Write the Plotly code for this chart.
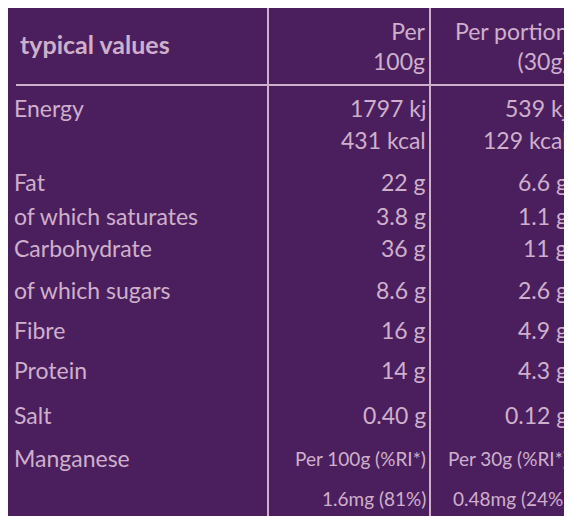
import plotly.graph_objects as go

# table contents
nutrients = ["Energy", "", "Fat", "of which saturates", "Carbohydrate",
             "of which sugars", "Fibre", "Protein", "Salt", "Manganese", ""]
per_100g = ["1797 kj", "431 kcal", "22 g", "3.8 g", "36 g", "8.6 g",
            "16 g", "14 g", "0.40 g", "Per 100g (%RI*)", "1.6mg (81%)"]
per_portion = ["539 kj", "129 kcal", "6.6 g", "1.1 g", "11 g", "2.6 g",
               "4.9 g", "4.3 g", "0.12 g", "Per 30g (%RI*)", "0.48mg (24%)"]
row_y = [100, 132, 174, 208, 240, 282, 322, 362, 407, 450, 490]

header_cols = ["Per<br>100g", "Per portion<br>(30g)"]

bg = "#4b1f5e"
fg = "#cfb0cc"
font = dict(family="Lato", size=23, color=fg)
small = dict(family="Lato", size=19, color=fg)

fig = go.Figure()
fig.add_trace(go.Scatter(x=[0, 572], y=[0, 516], mode="markers",
                         marker=dict(opacity=0), hoverinfo="skip"))

fig.add_annotation(x=10, y=36, text="<b>typical values</b>", showarrow=False,
                   xanchor="left", font=dict(family="Lato", size=25, color=fg))
fig.add_annotation(x=420, y=38, text=header_cols[0], showarrow=False,
                   xanchor="right", align="right", font=font)
fig.add_annotation(x=562, y=38, text=header_cols[1], showarrow=False,
                   xanchor="right", align="right", font=font)

for i, (name, a, b, y) in enumerate(zip(nutrients, per_100g, per_portion, row_y)):
    f = small if i >= 9 else font
    if name:
        fig.add_annotation(x=4, y=y, text=name, showarrow=False,
                           xanchor="left", font=font)
    fig.add_annotation(x=420, y=y, text=a, showarrow=False,
                       xanchor="right", font=f)
    fig.add_annotation(x=562, y=y, text=b, showarrow=False,
                       xanchor="right", font=f)

line = dict(color=fg, width=2)
fig.add_shape(type="line", x0=8, x1=566, y0=77, y1=77, line=line)
for xv in [260, 422]:
    fig.add_shape(type="line", x0=xv, x1=xv, y0=0, y1=516, line=line)

fig.update_xaxes(range=[0, 572], visible=False)
fig.update_yaxes(range=[516, 0], visible=False)
fig.update_layout(width=572, height=516, margin=dict(l=0, r=0, t=0, b=0),
                  paper_bgcolor=bg, plot_bgcolor=bg, showlegend=False)

fig.write_html("out.html")
